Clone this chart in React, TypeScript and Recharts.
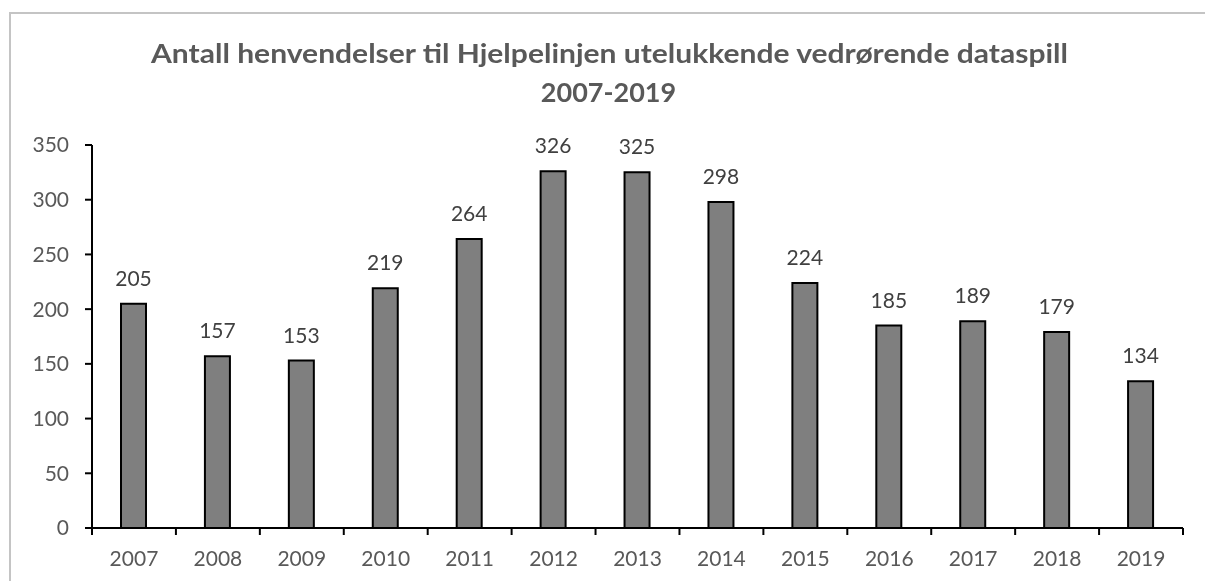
import React from "react";
import { BarChart, Bar, XAxis, YAxis, LabelList } from "recharts";

const years = ["2007", "2008", "2009", "2010", "2011", "2012", "2013", "2014", "2015", "2016", "2017", "2018", "2019"];
const counts = [205, 157, 153, 219, 264, 326, 325, 298, 224, 185, 189, 179, 134];
const yTicks = [0, 50, 100, 150, 200, 250, 300, 350];
const titleLine1 = "Antall henvendelser til Hjelpelinjen utelukkende vedrørende dataspill";
const titleLine2 = "2007-2019";

const data = years.map((y, i) => ({ year: y, value: counts[i] }));

const W = 1189;
const H = 573;
const M = { top: 137, right: 14, left: 0, bottom: 0 };
const Y_W = 84;
const X_H = 53;
const PLOT_W = W - M.left - M.right - Y_W;
const STEP = PLOT_W / years.length;
const FONT = "Lato, 'Open Sans', sans-serif";

const XTick = (props: any) => {
  const { x, y, payload, index } = props;
  const last = index === years.length - 1;
  return (
    <g>
      <line x1={x - STEP / 2} x2={x - STEP / 2} y1={y} y2={y + 7} stroke="#000" strokeWidth={2} />
      {last && <line x1={x + STEP / 2} x2={x + STEP / 2} y1={y} y2={y + 7} stroke="#000" strokeWidth={2} />}
      <text x={x} y={y + 38} textAnchor="middle" fill="#595959" fontSize={21} fontFamily={FONT}>
        {payload.value}
      </text>
    </g>
  );
};

export default function App() {
  return (
    <div style={{ position: "relative", width: W, height: H - 8, overflow: "hidden", background: "#fff" }}>
      <div
        style={{
          position: "fixed",
          left: 9,
          top: 12,
          right: 0,
          bottom: 0,
          borderTop: "2px solid #c4c4c4",
          borderLeft: "2px solid #c4c4c4",
        }}
      />
      <div style={{ position: "absolute", left: 0, top: 0 }}>
        <BarChart width={W} height={H} data={data} margin={M}>
          <text
            x={601.5}
            y={55}
            textAnchor="middle"
            fill="#595959"
            fontSize={27}
            fontWeight="bold"
            fontFamily={FONT}
            textLength={917}
            lengthAdjust="spacingAndGlyphs"
          >
            {titleLine1}
          </text>
          <text x={600.5} y={94} textAnchor="middle" fill="#595959" fontSize={27} fontWeight="bold" fontFamily={FONT}>
            {titleLine2}
          </text>
          <XAxis
            dataKey="year"
            height={X_H}
            tickSize={0}
            tickMargin={0}
            tickLine={false}
            axisLine={{ stroke: "#000", strokeWidth: 2 }}
            tick={<XTick />}
            interval={0}
          />
          <YAxis
            width={Y_W}
            domain={[0, 350]}
            ticks={yTicks}
            tickSize={7}
            tickMargin={16}
            axisLine={{ stroke: "#000", strokeWidth: 2 }}
            tickLine={{ stroke: "#000", strokeWidth: 2 }}
            tick={{ fill: "#595959", fontSize: 21, fontFamily: FONT }}
            interval={0}
          />
          <Bar dataKey="value" fill="#7f7f7f" stroke="#000" strokeWidth={2} barSize={25} isAnimationActive={false}>
            <LabelList dataKey="value" position="top" offset={18} fill="#404040" fontSize={21} fontFamily={FONT} />
          </Bar>
        </BarChart>
      </div>
    </div>
  );
}
